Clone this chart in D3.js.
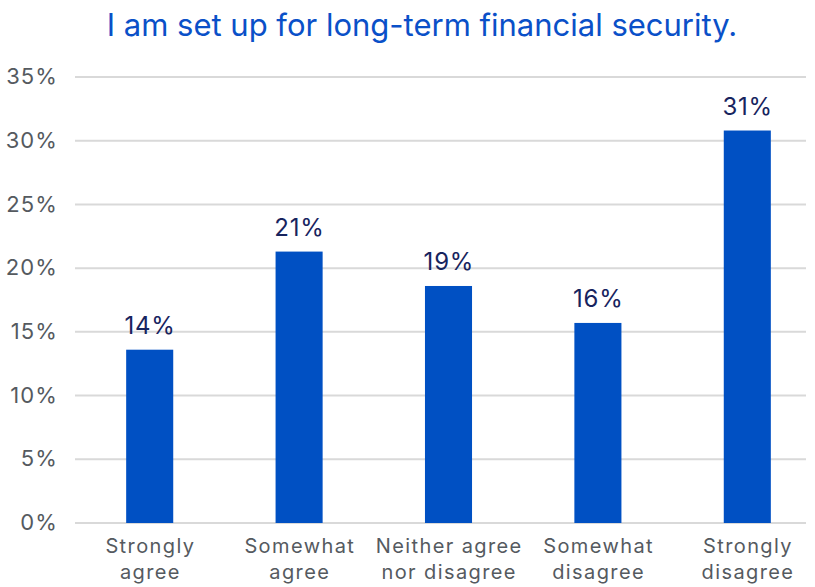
<!DOCTYPE html>
<html>
<head>
<meta charset="utf-8">
<script src="https://cdn.jsdelivr.net/npm/d3@7"></script>
<style>
  html, body { margin: 0; padding: 0; background: #ffffff; }
  svg { display: block; }
</style>
</head>
<body>
<svg id="chart" width="815" height="587"></svg>
<script>
// Survey responses to "I am set up for long-term financial security."
const categories = [
  ["Strongly", "agree"],
  ["Somewhat", "agree"],
  ["Neither agree", "nor disagree"],
  ["Somewhat", "disagree"],
  ["Strongly", "disagree"]
];
const shares = [0.136, 0.213, 0.186, 0.157, 0.308];
const yTicks = [0, 0.05, 0.10, 0.15, 0.20, 0.25, 0.30, 0.35];
const title = "I am set up for long-term financial security.";

const svg = d3.select("#chart");
const font = "Inter, Roboto, 'Liberation Sans', Arial, sans-serif";

const x = d3.scaleBand()
  .domain(d3.range(categories.length))
  .range([75, 822])
  .paddingInner(0.685)
  .paddingOuter(0.3425);

const y = d3.scaleLinear().domain([0, 0.35]).range([523, 77]);
const pct = d3.format(".0%");

// Title
svg.append("text")
  .attr("x", 422).attr("y", 36)
  .attr("text-anchor", "middle")
  .attr("font-family", font)
  .attr("font-size", 31)
  .attr("fill", "#0a50c8")
  .text(title);

// Gridlines
svg.append("g").selectAll("line").data(yTicks).join("line")
  .attr("x1", 75).attr("x2", 806)
  .attr("y1", d => y(d)).attr("y2", d => y(d))
  .attr("stroke", "#d9d9d9").attr("stroke-width", 2);

// Y axis labels
const yAxis = d3.axisLeft(y).tickValues(yTicks).tickFormat(pct).tickSize(0).tickPadding(-1);
const gy = svg.append("g").attr("transform", "translate(57,-1)").call(yAxis);
gy.select(".domain").remove();
gy.selectAll("text")
  .attr("font-family", font).attr("font-size", 22)
  .attr("letter-spacing", 1.1)
  .attr("fill", "#555a5f").attr("dy", "0.35em");

// Bars
svg.append("g").selectAll("rect").data(shares).join("rect")
  .attr("x", (d, i) => x(i))
  .attr("width", x.bandwidth())
  .attr("y", d => y(d))
  .attr("height", d => y(0) - y(d))
  .attr("fill", "#0050c3");

// Value labels
svg.append("g").selectAll("text").data(shares).join("text")
  .attr("x", (d, i) => x(i) + x.bandwidth() / 2 + 0.4)
  .attr("y", d => y(d) - 16)
  .attr("text-anchor", "middle")
  .attr("font-family", font).attr("font-size", 24)
  .attr("letter-spacing", 0.8)
  .attr("fill", "#17245e")
  .text(d => pct(d));

// Category labels (two lines each)
const cat = svg.append("g").selectAll("text").data(categories).join("text")
  .attr("x", (d, i) => x(i) + x.bandwidth() / 2 + 0.7)
  .attr("y", 553)
  .attr("text-anchor", "middle")
  .attr("font-family", font).attr("font-size", 20)
  .attr("letter-spacing", 1.4)
  .attr("fill", "#555a5f");
cat.selectAll("tspan").data(d => d).join("tspan")
  .attr("x", function () { return d3.select(this.parentNode).attr("x"); })
  .attr("dy", (d, i) => i === 0 ? 0 : 26)
  .text(d => d);
</script>
</body>
</html>
